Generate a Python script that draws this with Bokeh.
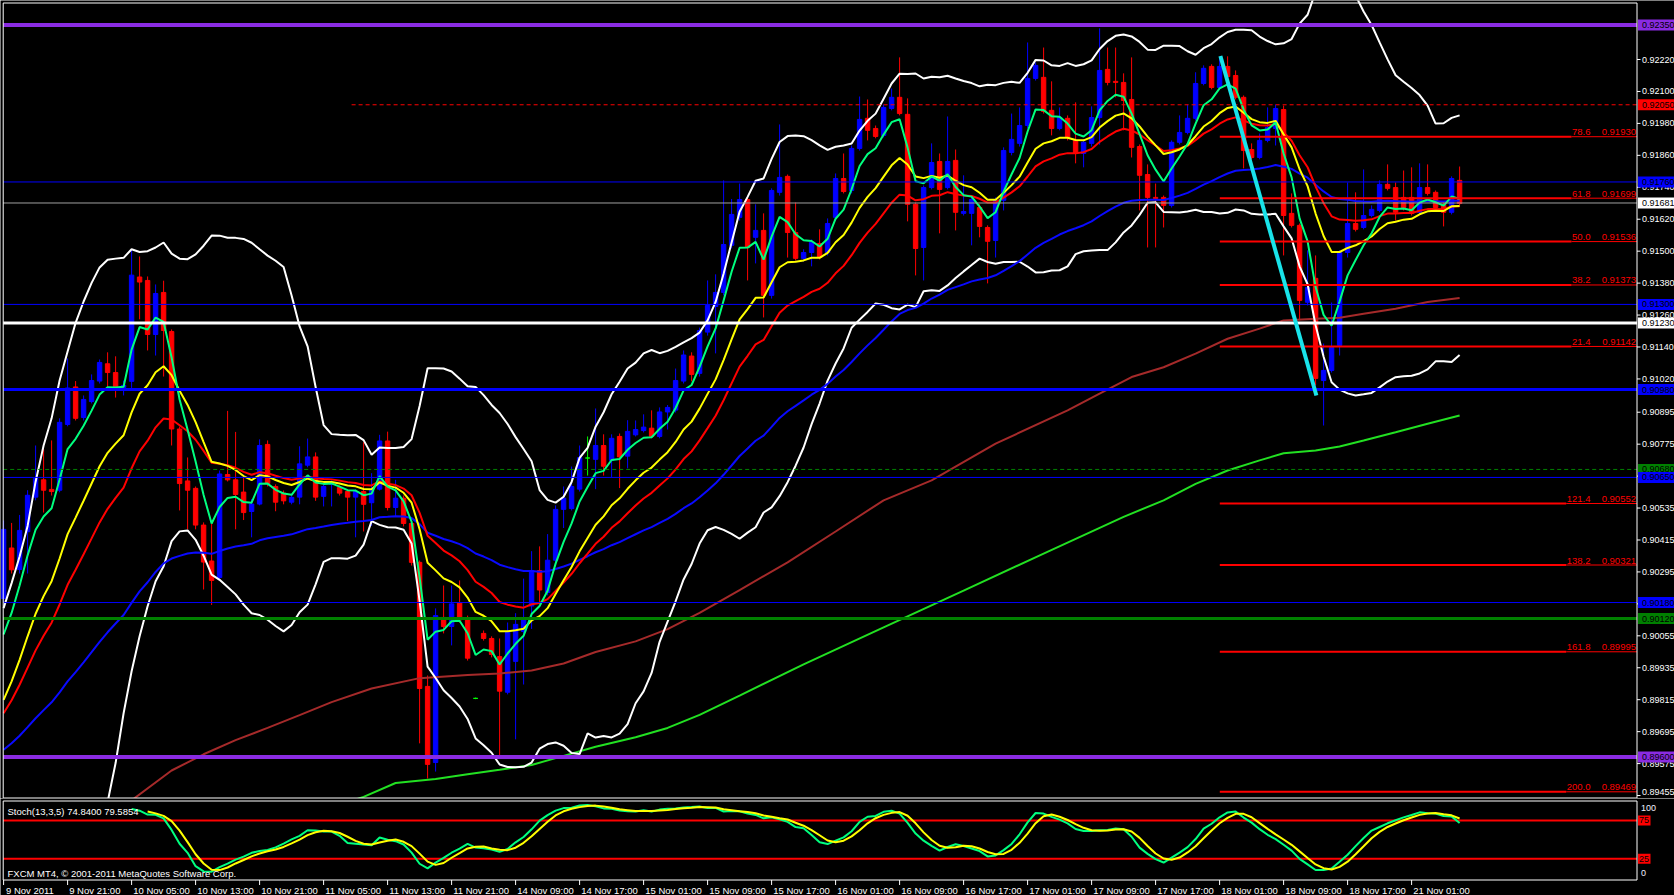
import numpy as np
from bokeh.plotting import figure
from bokeh.models import Range1d
from bokeh.layouts import column
from bokeh.embed import file_html
from bokeh.resources import INLINE
from bokeh.core.properties import value

# ---------------- DATA (hourly bars, index 0 = 9 Nov 2011 13:00) ----------------
opens = [0.90195,0.90385,0.90304,0.90446,0.90576,0.90641,0.90605,0.90602,0.90849,0.90990,
0.90875,0.90935,0.91012,0.91077,0.91044,0.90988,0.91011,0.91403,0.91390,0.91187,
0.91345,0.91198,0.90832,0.90637,0.90609,0.90471,0.90336,0.90274,0.90661,0.90641,
0.90595,0.90522,0.90550,0.90774,0.90616,0.90591,0.90557,0.90576,0.90696,0.90727,
0.90579,0.90624,0.90612,0.90597,0.90576,0.90597,0.90555,0.90606,0.90787,0.90537,
0.90572,0.90477,0.90331,0.89865,0.89579,0.90124,0.90090,0.90180,0.90115,0.89820,
0.90064,0.90045,0.89977,0.89843,0.89959,0.90071,0.90167,0.90300,0.90218,0.90339,
0.90530,0.90533,0.90606,0.90723,0.90718,0.90770,0.90714,0.90804,0.90730,0.90810,
0.90826,0.90835,0.90804,0.90896,0.90903,0.91012,0.91106,0.91041,0.91196,0.91292,
0.91345,0.91522,0.91627,0.91694,0.91552,0.91578,0.91334,0.91721,0.91781,0.91570,
0.91473,0.91495,0.91529,0.91495,0.91627,0.91773,0.91728,0.91886,0.91999,0.91961,
0.91935,0.92036,0.92078,0.92014,0.91676,0.91514,0.91739,0.91837,0.91739,0.91841,
0.91642,0.91642,0.91664,0.91589,0.91540,0.91691,0.91871,0.91905,0.91972,0.92149,
0.92153,0.92029,0.91961,0.91999,0.91916,0.91867,0.91905,0.92002,0.92183,0.92138,
0.92134,0.92070,0.91893,0.91788,0.91702,0.91702,0.91672,0.91909,0.91946,0.91999,
0.92130,0.92194,0.92115,0.92194,0.92160,0.92078,0.91882,0.91852,0.91916,0.91961,
0.92032,0.91642,0.91597,0.91308,0.91398,0.91014,0.91052,0.91146,0.91495,0.91604,
0.91589,0.91634,0.91653,0.91751,0.91739,0.91702,0.91702,0.91646,0.91739,0.91721,
0.91676,0.91646,0.91766]
highs = [0.90488,0.90479,0.90509,0.90602,0.90770,0.90756,0.90789,0.90872,0.91097,0.91012,
0.90958,0.91037,0.91093,0.91120,0.91105,0.91014,0.91504,0.91480,0.91405,0.91375,
0.91389,0.91206,0.90841,0.90725,0.90616,0.90481,0.90477,0.90676,0.90900,0.90821,
0.90648,0.90569,0.90793,0.90789,0.90624,0.90601,0.90586,0.90767,0.90796,0.90744,
0.90624,0.90639,0.90620,0.90605,0.90605,0.90782,0.90666,0.90810,0.90822,0.90641,
0.90582,0.90488,0.90338,0.89906,0.90158,0.90244,0.90244,0.90263,0.90131,0.89823,
0.90075,0.90053,0.90045,0.90105,0.90140,0.90270,0.90373,0.90391,0.90437,0.90545,
0.90616,0.90691,0.90770,0.90804,0.90909,0.90812,0.90812,0.90815,0.90865,0.90864,
0.90887,0.90902,0.90913,0.90922,0.91059,0.91127,0.91120,0.91213,0.91390,0.91413,
0.91766,0.91696,0.91754,0.91706,0.91676,0.91642,0.91736,0.91976,0.91788,0.91683,
0.91507,0.91544,0.91582,0.91623,0.91792,0.91867,0.91897,0.92081,0.92070,0.91972,
0.92051,0.92111,0.92228,0.92074,0.91683,0.91747,0.91905,0.91867,0.92006,0.91882,
0.91785,0.91706,0.91676,0.91597,0.91702,0.91890,0.92017,0.92040,0.92284,0.92209,
0.92265,0.92138,0.92040,0.92010,0.92059,0.91920,0.92044,0.92337,0.92265,0.92265,
0.92168,0.92228,0.91901,0.91826,0.91754,0.91709,0.91916,0.92010,0.92051,0.92172,
0.92198,0.92202,0.92228,0.92232,0.92179,0.92085,0.91905,0.91942,0.92040,0.92051,
0.92047,0.91717,0.91604,0.91503,0.91484,0.91153,0.91307,0.91503,0.91758,0.91721,
0.91807,0.91672,0.91766,0.91826,0.91758,0.91803,0.91815,0.91830,0.91826,0.91728,
0.91683,0.91781,0.91818]
lows = [0.90180,0.90289,0.90289,0.90289,0.90564,0.90518,0.90582,0.90594,0.90842,0.90864,
0.90864,0.90928,0.91003,0.90986,0.90950,0.90958,0.90986,0.91244,0.91127,0.91108,
0.91029,0.90770,0.90526,0.90455,0.90455,0.90229,0.90171,0.90263,0.90635,0.90455,
0.90490,0.90425,0.90545,0.90616,0.90523,0.90549,0.90549,0.90549,0.90688,0.90562,
0.90541,0.90541,0.90582,0.90486,0.90425,0.90447,0.90468,0.90601,0.90526,0.90503,
0.90466,0.90319,0.89651,0.89519,0.89545,0.90064,0.90019,0.90105,0.89962,0.89817,
0.90037,0.89974,0.89598,0.89835,0.89666,0.89872,0.90081,0.90175,0.90207,0.90331,
0.90460,0.90526,0.90597,0.90657,0.90606,0.90657,0.90650,0.90610,0.90684,0.90804,
0.90819,0.90797,0.90797,0.90830,0.90894,0.91003,0.91011,0.91029,0.91183,0.91116,
0.91334,0.91510,0.91615,0.91390,0.91454,0.91251,0.91322,0.91709,0.91476,0.91465,
0.91461,0.91443,0.91469,0.91484,0.91615,0.91717,0.91717,0.91878,0.91916,0.91924,
0.91927,0.92029,0.92010,0.91612,0.91409,0.91390,0.91732,0.91567,0.91732,0.91578,
0.91634,0.91522,0.91552,0.91379,0.91476,0.91653,0.91860,0.91893,0.91961,0.92141,
0.92017,0.91935,0.91954,0.91916,0.91830,0.91815,0.91893,0.91900,0.92123,0.92078,
0.91954,0.91852,0.91653,0.91514,0.91514,0.91589,0.91664,0.91901,0.91939,0.91991,
0.92123,0.92108,0.92108,0.92149,0.92070,0.91811,0.91845,0.91845,0.91909,0.91897,
0.91484,0.91589,0.91240,0.91296,0.90996,0.90845,0.91044,0.91108,0.91476,0.91574,
0.91582,0.91627,0.91646,0.91728,0.91615,0.91653,0.91634,0.91638,0.91709,0.91657,
0.91593,0.91638,0.91672]
closes = [0.90455,0.90303,0.90451,0.90583,0.90646,0.90602,0.90597,0.90857,0.90986,0.90872,
0.90943,0.91014,0.91082,0.91044,0.90986,0.90996,0.91410,0.91384,0.91187,0.91341,
0.91202,0.90832,0.90627,0.90602,0.90471,0.90332,0.90263,0.90663,0.90641,0.90586,
0.90518,0.90550,0.90770,0.90627,0.90557,0.90562,0.90575,0.90701,0.90727,0.90576,
0.90616,0.90631,0.90591,0.90576,0.90597,0.90549,0.90601,0.90787,0.90537,0.90572,
0.90477,0.90331,0.89857,0.89572,0.90131,0.90090,0.90175,0.90115,0.89971,0.89820,
0.90045,0.89985,0.89847,0.90071,0.90098,0.90115,0.90300,0.90227,0.90339,0.90530,
0.90572,0.90616,0.90724,0.90723,0.90770,0.90692,0.90797,0.90727,0.90823,0.90830,
0.90839,0.90804,0.90896,0.90913,0.91014,0.91110,0.91037,0.91202,0.91296,0.91345,
0.91525,0.91638,0.91694,0.91514,0.91578,0.91334,0.91728,0.91777,0.91570,0.91473,
0.91495,0.91533,0.91476,0.91604,0.91773,0.91724,0.91886,0.91995,0.91954,0.91931,
0.92040,0.92078,0.92017,0.91676,0.91510,0.91739,0.91833,0.91732,0.91837,0.91646,
0.91649,0.91694,0.91593,0.91537,0.91691,0.91878,0.91920,0.91972,0.92149,0.92198,
0.92025,0.91961,0.92002,0.91927,0.91867,0.91909,0.92002,0.92179,0.92134,0.92134,
0.92066,0.91890,0.91785,0.91702,0.91698,0.91672,0.91909,0.91946,0.91999,0.92130,
0.92187,0.92115,0.92194,0.92156,0.92078,0.91878,0.91852,0.91916,0.91965,0.92036,
0.91634,0.91597,0.91315,0.91364,0.91022,0.91052,0.91138,0.91495,0.91604,0.91582,
0.91634,0.91657,0.91751,0.91736,0.91646,0.91664,0.91642,0.91739,0.91717,0.91664,
0.91646,0.91773,0.91679]

time_tick_idx = list(range(0, 177, 8))
time_labels = ["9 Nov 2011", "9 Nov 21:00", "10 Nov 05:00", "10 Nov 13:00", "10 Nov 21:00",
               "11 Nov 05:00", "11 Nov 13:00", "11 Nov 21:00", "14 Nov 09:00", "14 Nov 17:00",
               "15 Nov 01:00", "15 Nov 09:00", "15 Nov 17:00", "16 Nov 01:00", "16 Nov 09:00",
               "16 Nov 17:00", "17 Nov 01:00", "17 Nov 09:00", "17 Nov 17:00", "18 Nov 01:00",
               "18 Nov 09:00", "18 Nov 17:00", "21 Nov 01:00"]

price_ticks = [0.92220, 0.92100, 0.91980, 0.91860, 0.91740, 0.91620, 0.91500, 0.91380,
               0.91260, 0.91140, 0.91020, 0.90895, 0.90775, 0.90655, 0.90535, 0.90415,
               0.90295, 0.90175, 0.90055, 0.89935, 0.89815, 0.89695, 0.89575, 0.89455]
price_tick_labels = ["%.5f" % v for v in price_ticks]

# horizontal price levels
level_prices = [0.92350, 0.92050, 0.91760, 0.91681, 0.91300, 0.91230, 0.90980,
                0.90680, 0.90650, 0.90180, 0.90120, 0.89600]
level_labels = ["0.92350", "0.92050", "0.91760", "0.91681", "0.91300", "0.91230", "0.90980",
                "0.90680", "0.90650", "0.90180", "0.90120", "0.89600"]

# Fibonacci levels
fib_levels = ["78.6", "61.8", "50.0", "38.2", "21.4", "121.4", "138.2", "161.8", "200.0"]
fib_prices = [0.91930, 0.91699, 0.91536, 0.91373, 0.91142, 0.90552, 0.90321, 0.89995, 0.89469]

# trend line (bar index, price)
trend_idx = [152.1, 164.1]
trend_px = [0.92233, 0.90958]

# moving-average start values (at first bar)
ema_periods = [5, 13, 21, 55]
ema_seeds = [0.90060, 0.89814, 0.89764, 0.89627]

# Bollinger band values before 20 bars of history are available
bb_up_early = [0.90159, 0.90253, 0.90353, 0.90468, 0.90634, 0.90770, 0.90872, 0.91014, 0.91123,
               0.91231, 0.91311, 0.91381, 0.91439, 0.91468, 0.91472, 0.91475, 0.91507, 0.91497, 0.91500]
bb_lo_early = [np.nan]*12 + [0.89300, 0.89430, 0.89577, 0.89764, 0.89922, 0.90053, 0.90166]

# slow moving averages (bar index, price)
brown_idx = [12, 16, 21, 25, 29, 33, 37, 41, 46, 52, 58, 62, 66, 70, 74, 79, 83, 87, 92, 98,
             104, 110, 116, 124, 133, 137, 141, 145, 149, 153, 157, 160, 164, 167, 170, 174, 178, 182]
brown_val = [0.89330, 0.89437, 0.89549, 0.89610, 0.89663, 0.89709, 0.89757, 0.89806, 0.89857, 0.89896,
             0.89908, 0.89913, 0.89925, 0.89951, 0.89994, 0.90034, 0.90080, 0.90141, 0.90227, 0.90331,
             0.90447, 0.90564, 0.90639, 0.90777, 0.90902, 0.90965, 0.91027, 0.91064, 0.91115, 0.91171,
             0.91209, 0.91240, 0.91246, 0.91250, 0.91265, 0.91284, 0.91309, 0.91324]
lime_idx = [40, 45, 49, 54, 58, 62, 66, 70, 74, 79, 83, 87, 92, 100, 110, 120, 130, 140, 145, 149,
            153, 157, 160, 164, 167, 170, 174, 178, 182]
lime_val = [0.89400, 0.89450, 0.89502, 0.89517, 0.89535, 0.89552, 0.89570, 0.89604, 0.89638, 0.89674,
            0.89709, 0.89758, 0.89830, 0.89948, 0.90087, 0.90225, 0.90364, 0.90502, 0.90564, 0.90626,
            0.90676, 0.90714, 0.90741, 0.90751, 0.90766, 0.90789, 0.90820, 0.90852, 0.90883]

stoch_levels = [75, 25]
stoch_title = "Stoch(13,3,5) 74.8400 79.5854"
copyright_text = "FXCM MT4, \u00a9 2001-2011 MetaQuotes Software Corp."

# ---------------- STYLES / LAYOUT ----------------
FONT = "Liberation Sans"
FS = "9.5px"
FSA = "9px"
BLUE = "#0000FF"; RED = "#FF0000"; WHITE = "#FFFFFF"; PURPLE = "#8A2BE2"; GREEN = "#008000"
level_colors = [PURPLE, RED, BLUE, "#A0A0A0", BLUE, WHITE, BLUE, GREEN, BLUE, BLUE, GREEN, PURPLE]
level_box = [PURPLE, RED, BLUE, WHITE, BLUE, WHITE, BLUE, GREEN, BLUE, BLUE, GREEN, PURPLE]
level_width = [4, 1, 1, 1, 1, 3, 3, 1, 1, 1, 3, 4]
level_dash = ["solid", "4 3", "solid", "solid", "solid", "solid", "solid", "4 3",
              "solid", "solid", "solid", "solid"]

PX = 8.0          # pixels per bar
X0 = 3.1          # x pixel of bar 0
def bx(px):       # pixel column -> bar units
    return (px - X0) / PX
XR = bx(1636.5)   # right frame edge
XL = bx(2.7)      # left frame edge
level_start = [XL, 43.5, XL, XL, XL, XL, XL, XL, XL, XL, XL, XL]
W = 1674
H1 = 798
H2 = 97
PPU = 26619.0     # pixels per price unit
y_top = 0.924417
y_bot = y_top - H1 / PPU
xr = Range1d(bx(0), bx(W))

def pxp(n):
    return n / PPU
def py(row):      # pixel row -> price
    return y_top - row / PPU

O = np.array(opens); Hh = np.array(highs); Ll = np.array(lows); C = np.array(closes)
N = len(C)
idx = np.arange(N)

def ema(src, n, seed):
    a = 2.0 / (n + 1)
    out = np.empty(len(src)); out[0] = seed
    for i in range(1, len(src)):
        out[i] = out[i - 1] + a * (src[i] - out[i - 1])
    return out

emas = [ema(C, n, s) for n, s in zip(ema_periods, ema_seeds)]
ema_colors = ["#00FF7F", "#FFFF00", "#FF0000", "#0A0AFF"]

bb_up = np.full(N, np.nan); bb_lo = np.full(N, np.nan)
for i in range(19, N):
    w = C[i - 19:i + 1]
    m = w.mean(); s = w.std()
    bb_up[i] = m + 2 * s; bb_lo[i] = m - 2 * s
bb_up[:19] = bb_up_early; bb_lo[:19] = bb_lo_early

# Stochastic 13,3,5 (K period 13, D period 3, slowing 5)
num = np.full(N, np.nan); den = np.full(N, np.nan)
for i in range(12, N):
    hh = Hh[i - 12:i + 1].max(); ll = Ll[i - 12:i + 1].min()
    num[i] = C[i] - ll; den[i] = hh - ll
K = np.full(N, np.nan); D = np.full(N, np.nan)
for i in range(16, N):
    K[i] = 100 * num[i - 4:i + 1].sum() / den[i - 4:i + 1].sum()
for i in range(18, N):
    D[i] = K[i - 2:i + 1].mean()

# ---------------- MAIN PRICE PANEL ----------------
p = figure(width=W, height=H1, x_range=xr, y_range=Range1d(y_bot, y_top),
           x_axis_type=None, y_axis_type=None, toolbar_location=None,
           output_backend="svg", background_fill_color="black",
           border_fill_color="black", outline_line_color=None, min_border=0)
p.grid.visible = False

cols = np.where(C > O, BLUE, np.where(C < O, RED, "#00FF00"))
p.segment(x0=idx, y0=Ll, x1=idx, y1=Hh, color=cols, line_width=1)
p.vbar(x=idx, width=0.55, top=np.maximum(O, C), bottom=np.minimum(O, C),
       fill_color=cols, line_color=cols, line_width=1)

# indicators
p.line(brown_idx, brown_val, color="#A52A2A", line_width=2)
p.line(lime_idx, lime_val, color="#22E022", line_width=2)
p.line(idx, bb_up, color=WHITE, line_width=2)
p.line(idx, bb_lo, color=WHITE, line_width=2)
for e, c in zip(emas[::-1], ema_colors[::-1]):
    p.line(idx, e, color=c, line_width=2)

# horizontal levels
for lp, lc, lw, ld, ls in zip(level_prices, level_colors, level_width, level_dash, level_start):
    p.segment(x0=[ls], y0=[lp], x1=[XR], y1=[lp], color=lc, line_width=lw, line_dash=ld)

# fibonacci
fib_start = bx(1219.3)
for lvl, fp in zip(fib_levels, fib_prices):
    thick_end = bx(1571) if len(lvl) == 4 else bx(1565.7)
    p.segment(x0=[fib_start], y0=[fp], x1=[thick_end], y1=[fp], color=RED, line_width=2)
    p.segment(x0=[thick_end], y0=[fp], x1=[XR], y1=[fp], color=RED, line_width=1)
p.text(x=[bx(1590)] * len(fib_levels), y=[fp + pxp(1.5) for fp in fib_prices],
       text=fib_levels, text_color=RED, text_font=value(FONT), text_font_size=FS,
       text_align="right", text_baseline="bottom")
p.text(x=[bx(1635.5)] * len(fib_levels), y=[fp + pxp(1.5) for fp in fib_prices],
       text=["%.5f" % v for v in fib_prices], text_color=RED, text_font=value(FONT),
       text_font_size=FS, text_align="right", text_baseline="bottom")

# trend line
p.line(trend_idx, trend_px, color="#19E3EA", line_width=4)

# frame borders
p.segment(x0=[XR, XL, XL, XL], y0=[py(797.5), py(797.5), py(2.5), py(797.5)],
          x1=[XR, XL, XR, XR], y1=[py(2.5), py(2.5), py(2.5), py(797.5)],
          color=WHITE, line_width=1)

# right price scale (last label nudged up so it stays inside the panel)
tx0 = bx(1637.5)
p.segment(x0=[XR] * len(price_ticks), y0=price_ticks, x1=[bx(1640)] * len(price_ticks),
          y1=price_ticks, color=WHITE, line_width=1)
lab_y = list(price_ticks)
lab_y[-1] = price_ticks[-1] + pxp(3.5)
p.text(x=[bx(1641.5)] * len(price_ticks), y=lab_y, text=price_tick_labels,
       text_color=WHITE, text_font=value(FONT), text_font_size=FSA,
       text_baseline="middle", text_align="left")
p.quad(left=[tx0] * len(level_prices), right=[bx(1680)] * len(level_prices),
       top=[v + pxp(5.5) for v in level_prices], bottom=[v - pxp(5.5) for v in level_prices],
       fill_color=level_box, line_color=None)
p.text(x=[bx(1641.5)] * len(level_prices), y=level_prices, text=level_labels,
       text_color="black", text_font=value(FONT), text_font_size=FSA,
       text_baseline="middle", text_align="left")

# ---------------- STOCHASTIC PANEL ----------------
SPU = 0.766                     # pixels per stochastic unit
S0 = 877.4 - 798                # row of value 0 inside the panel
s_top = S0 / SPU
s_bot = s_top - H2 / SPU
def sv(row):                    # page row -> stochastic value
    return (877.4 - row) / SPU

q = figure(width=W, height=H2, x_range=xr, y_range=Range1d(s_bot, s_top),
           x_axis_type=None, y_axis_type=None, toolbar_location=None,
           output_backend="svg", background_fill_color="black",
           border_fill_color="black", outline_line_color=None, min_border=0)
q.grid.visible = False

frame_top = sv(800.5)
frame_bot = sv(879.5)
for lv in stoch_levels:
    q.segment(x0=[XL], y0=[lv], x1=[XR], y1=[lv], color=RED, line_width=2)
q.line(idx, K, color="#00FF7F", line_width=2)
q.line(idx, D, color="#FFFF00", line_width=2)

# frame
q.segment(x0=[XL, XL, XR, XL], y0=[frame_top, frame_bot, frame_bot, frame_bot],
          x1=[XR, XR, XR, XL], y1=[frame_top, frame_bot, frame_top, frame_top],
          color=WHITE, line_width=1)

q.text(x=[bx(7)], y=[sv(811)], text=[stoch_title], text_color=WHITE, text_font=value(FONT),
       text_font_size=FS, text_baseline="middle", text_align="left")
q.text(x=[bx(7)], y=[sv(872.5)], text=[copyright_text], text_color=WHITE, text_font=value(FONT),
       text_font_size=FS, text_baseline="middle", text_align="left")

# right scale of stochastic
q.text(x=[bx(1640.5)] * 2, y=[sv(807), sv(872)], text=["100", "0"], text_color="#F0F0FF",
       text_font=value(FONT), text_font_size=FSA, text_baseline="middle", text_align="left")
q.quad(left=[tx0] * 2, right=[bx(1650)] * 2,
       top=[lv + 5 / SPU for lv in stoch_levels], bottom=[lv - 5 / SPU for lv in stoch_levels],
       fill_color=RED, line_color=None)
q.text(x=[bx(1638.5)] * 2, y=stoch_levels, text=[str(lv) for lv in stoch_levels],
       text_color="black", text_font=value(FONT), text_font_size=FSA,
       text_baseline="middle", text_align="left")

# time axis
q.segment(x0=time_tick_idx, y0=[frame_bot] * len(time_tick_idx), x1=time_tick_idx,
          y1=[sv(884.5)] * len(time_tick_idx), color=WHITE, line_width=1)
lab_x = [i + 0.2 for i in time_tick_idx]
lab_x[0] = bx(5.5)
q.text(x=lab_x, y=[sv(889.5)] * len(lab_x), text=time_labels, text_color=WHITE,
       text_font=value(FONT), text_font_size=FS, text_baseline="middle", text_align="left")

layout = column(p, q, spacing=0)
open("out.html", "w").write(file_html(layout, INLINE))
